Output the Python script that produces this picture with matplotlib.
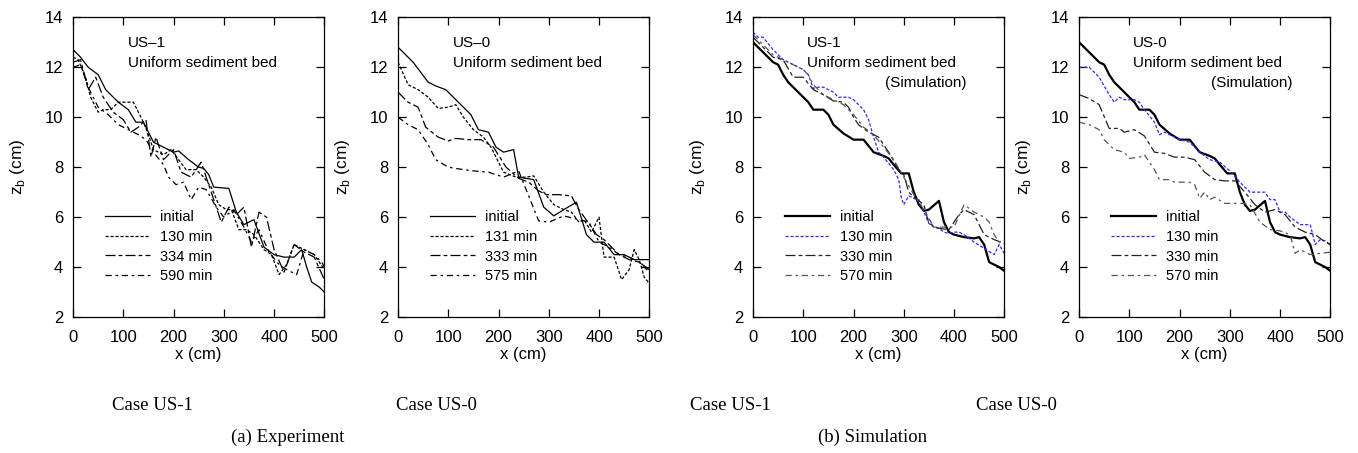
import matplotlib
matplotlib.use('Agg')
import matplotlib.pyplot as plt

plt.rcParams['font.family'] = ['Liberation Sans', 'DejaVu Sans']
plt.rcParams['mathtext.fontset'] = 'custom'
plt.rcParams['mathtext.rm'] = 'Liberation Sans'

# ---- (a) Experiment, US-1 ----
e1_init_x = [0, 15, 30, 50, 65, 90, 110, 125, 140, 160, 180, 200, 210, 230, 250, 260, 270, 280, 310, 325,
             340, 360, 380, 400, 420, 440, 455, 465, 475, 490, 500]
e1_init_z = [12.7, 12.4, 12.0, 11.7, 11.1, 10.6, 10.3, 9.8, 9.8, 9.0, 8.8, 8.6, 8.65, 8.3, 8.0, 7.95, 7.7, 7.2,
             7.15, 6.2, 5.7, 5.9, 4.8, 4.5, 4.4, 4.4, 4.7, 4.0, 3.4, 3.2, 3.0]
e1_130_x = [0, 10, 25, 35, 50, 60, 75, 90, 120, 140, 150, 160, 180, 195, 210, 225, 245, 260, 275, 290, 305,
            315, 330, 345, 360, 380, 395, 410, 425, 440, 460, 480, 500]
e1_130_z = [12.4, 12.3, 11.6, 10.8, 10.2, 10.3, 10.3, 10.6, 10.6, 9.8, 9.3, 8.7, 8.5, 8.7, 8.3, 7.9, 7.9,
            7.6, 7.2, 6.5, 6.3, 6.3, 5.5, 5.5, 5.3, 4.7, 4.5, 3.7, 4.1, 4.9, 4.7, 4.5, 3.9]
e1_334_x = [0, 15, 30, 45, 60, 80, 100, 115, 130, 145, 155, 165, 180, 200, 215, 235, 255, 275, 295, 310,
            325, 340, 355, 370, 385, 400, 420, 440, 460, 480, 500]
e1_334_z = [12.2, 12.3, 11.1, 11.6, 10.8, 10.2, 9.9, 9.4, 9.6, 9.9, 8.4, 9.2, 8.3, 8.7, 7.8, 7.6, 8.2, 7.0,
            5.8, 6.4, 6.1, 6.4, 4.8, 6.2, 6.0, 4.7, 3.8, 4.9, 4.6, 4.4, 3.5]
e1_590_x = [0, 15, 30, 50, 70, 90, 110, 130, 145, 160, 180, 190, 205, 220, 235, 250, 265, 285, 300, 320,
            340, 355, 370, 390, 410, 425, 445, 460, 480, 495, 500]
e1_590_z = [12.0, 12.1, 11.2, 10.4, 10.1, 9.7, 9.5, 9.3, 9.1, 8.6, 8.1, 7.6, 7.3, 7.4, 6.7, 7.2, 7.1, 6.4,
            6.0, 6.3, 5.6, 5.0, 5.5, 4.6, 4.1, 3.9, 3.7, 4.7, 4.5, 4.2, 4.0]

# ---- (a) Experiment, US-0 ----
e0_init_x = [0, 30, 60, 75, 95, 110, 130, 145, 160, 180, 195, 210, 230, 240, 270, 290, 310, 330, 355, 375,
             390, 410, 430, 450, 470, 500]
e0_init_z = [12.8, 12.2, 11.4, 11.25, 11.1, 10.8, 10.4, 10.1, 9.5, 9.4, 8.8, 8.6, 8.7, 7.6, 7.5, 6.4, 6.05,
             6.3, 6.6, 5.3, 5.0, 5.0, 4.5, 4.5, 4.3, 4.3]
e0_131_x = [0, 20, 40, 60, 80, 100, 115, 130, 150, 170, 185, 210, 235, 255, 270, 290, 310, 330, 345, 360,
            370, 385, 400, 410, 430, 445, 460, 470, 480, 490, 500]
e0_131_z = [12.2, 11.3, 11.1, 10.8, 10.35, 10.4, 10.5, 10.0, 9.5, 9.2, 8.8, 7.8, 7.6, 7.6, 7.65, 7.0, 6.5,
            6.3, 6.2, 5.8, 5.9, 5.4, 6.0, 4.4, 4.4, 3.5, 3.9, 4.7, 4.3, 3.6, 3.35]
e0_333_x = [0, 20, 40, 55, 80, 100, 115, 140, 165, 190, 215, 240, 260, 280, 295, 320, 345, 360, 385, 395,
            410, 440, 460, 480, 500]
e0_333_z = [11.0, 10.6, 10.4, 9.6, 9.2, 9.05, 9.15, 9.1, 9.1, 8.8, 8.0, 7.55, 7.4, 7.05, 6.9, 6.9, 6.85,
            6.3, 5.6, 5.3, 5.1, 4.5, 4.3, 4.2, 3.9]
e0_575_x = [0, 20, 40, 60, 75, 100, 130, 150, 180, 210, 240, 255, 265, 280, 300, 330, 360, 380, 400, 420,
            440, 460, 480, 500]
e0_575_z = [10.0, 9.7, 9.5, 8.9, 8.3, 8.0, 7.9, 7.85, 7.8, 7.6, 7.85, 7.1, 6.6, 5.85, 5.8, 6.05, 5.9, 5.8,
            5.0, 4.8, 4.5, 4.4, 4.2, 3.8]

# ---- (b) Simulation, initial bed (same for both cases) ----
s_init_x = [0, 20, 40, 50, 60, 70, 90, 110, 120, 140, 150, 160, 180, 200, 220, 240, 260, 270, 280, 295,
            310, 320, 330, 340, 350, 370, 380, 390, 400, 420, 440, 450, 460, 470, 490, 500]
s_init_z = [13.0, 12.6, 12.2, 12.1, 11.7, 11.4, 11.0, 10.6, 10.3, 10.3, 10.1, 9.7, 9.35, 9.1, 9.1, 8.6,
            8.45, 8.35, 8.1, 7.75, 7.75, 7.0, 6.5, 6.25, 6.3, 6.65, 5.8, 5.4, 5.3, 5.2, 5.15, 5.2, 4.9, 4.2,
            4.0, 3.85]

# ---- (b) Simulation, US-1 ----
s1_130_x = [0, 10, 20, 40, 60, 80, 100, 110, 120, 130, 140, 160, 170, 190, 200, 220, 230, 240, 250, 260,
            280, 290, 295, 300, 310, 320, 330, 340, 350, 360, 370, 380, 390, 400, 410, 420, 440, 460, 480,
            490, 500]
s1_130_z = [13.4, 13.2, 13.2, 12.7, 12.3, 12.1, 11.9, 11.7, 11.15, 11.2, 11.2, 11.0, 10.8, 10.8, 10.7,
            10.3, 9.9, 9.2, 8.6, 8.4, 7.9, 7.5, 6.8, 6.5, 6.85, 6.75, 6.7, 6.2, 5.75, 5.6, 5.55, 5.4, 5.35,
            5.4, 5.4, 5.3, 5.0, 4.75, 4.5, 4.9, 4.55]
s1_330_x = [0, 20, 40, 60, 80, 100, 120, 140, 160, 180, 190, 200, 210, 230, 250, 270, 290, 300, 310, 320,
            340, 350, 370, 390, 410, 420, 440, 460, 480, 500]
s1_330_z = [13.2, 12.8, 12.4, 12.3, 11.6, 11.6, 11.1, 10.9, 10.65, 10.6, 10.4, 10.0, 9.7, 9.4, 9.2, 8.6,
            7.9, 7.7, 7.0, 6.8, 6.5, 5.75, 5.55, 5.5, 6.1, 6.3, 6.1, 5.3, 5.1, 4.95]
s1_570_x = [0, 20, 40, 60, 80, 100, 110, 120, 140, 160, 180, 200, 220, 240, 260, 280, 300, 320, 340, 360,
            380, 400, 420, 440, 460, 470, 480, 490, 500]
s1_570_z = [13.3, 12.9, 12.5, 12.3, 12.1, 11.9, 11.7, 11.3, 10.9, 10.7, 10.5, 10.1, 9.6, 9.3, 8.8, 8.3,
            7.6, 6.9, 6.3, 5.6, 5.6, 5.6, 6.5, 6.2, 6.0, 5.8, 5.3, 5.0, 5.1]

# ---- (b) Simulation, US-0 ----
s0_130_x = [0, 20, 40, 60, 70, 80, 90, 110, 120, 130, 150, 160, 170, 180, 200, 220, 240, 260, 280, 300,
            320, 340, 370, 380, 390, 400, 410, 420, 440, 460, 470, 480, 490, 500]
s0_130_z = [12.0, 12.0, 11.6, 10.9, 10.6, 10.8, 10.7, 10.7, 10.6, 10.3, 9.8, 9.3, 9.4, 9.3, 9.1, 9.0, 8.6,
            8.3, 8.2, 7.85, 7.4, 7.0, 7.0, 6.7, 6.7, 6.2, 6.2, 6.0, 5.7, 5.7, 4.9, 5.1, 5.05, 4.9]
s0_330_x = [0, 20, 40, 60, 80, 90, 110, 130, 150, 170, 190, 210, 230, 250, 270, 290, 310, 330, 350, 370,
            390, 410, 430, 450, 470, 490, 500]
s0_330_z = [10.9, 10.75, 10.5, 9.55, 9.55, 9.4, 9.5, 9.25, 8.6, 8.55, 8.4, 8.4, 8.3, 7.8, 7.5, 7.45, 7.45,
            7.0, 6.5, 6.2, 6.3, 6.1, 5.6, 5.4, 5.3, 5.0, 4.9]
s0_570_x = [0, 20, 40, 50, 70, 90, 100, 120, 130, 150, 160, 180, 190, 220, 230, 240, 250, 260, 270, 290,
            330, 340, 360, 380, 400, 420, 430, 440, 460, 480, 500]
s0_570_z = [9.8, 9.7, 9.5, 9.1, 8.7, 8.6, 8.35, 8.4, 8.5, 7.9, 7.5, 7.5, 7.4, 7.4, 7.3, 6.75, 7.0, 6.7,
            6.8, 6.55, 6.55, 6.5, 5.8, 5.5, 5.45, 5.3, 4.55, 4.7, 4.5, 4.55, 4.6]

exp_labels_1 = ['initial', '130 min', '334 min', '590 min']
exp_labels_0 = ['initial', '131 min', '333 min', '575 min']
sim_labels = ['initial', '130 min', '330 min', '570 min']

exp_styles = [
    dict(color='black', lw=0.9, ls='-'),
    dict(color='black', lw=0.9, ls=(0, (2.5, 1.5))),
    dict(color='black', lw=0.9, ls=(0, (8, 2.5, 3, 2.5))),
    dict(color='black', lw=0.9, ls=(0, (5, 3, 2, 3))),
]
sim_styles = [
    dict(color='black', lw=1.6, ls='-'),
    dict(color='#2b2bff', lw=0.9, ls=(0, (2.5, 1.5))),
    dict(color='#222222', lw=0.9, ls=(0, (8, 2.5, 3, 2.5))),
    dict(color='#555555', lw=0.9, ls=(0, (5, 3, 2, 3))),
]

fig = plt.figure(figsize=(13.58, 4.53), dpi=100)
lefts = [0.0538, 0.2931, 0.5545, 0.7946]
W, B, H = 0.185, 0.300, 0.662

panels = [
    ([(e1_init_x, e1_init_z), (e1_130_x, e1_130_z), (e1_334_x, e1_334_z), (e1_590_x, e1_590_z)],
     exp_labels_1, exp_styles, 'US\u20131', False),
    ([(e0_init_x, e0_init_z), (e0_131_x, e0_131_z), (e0_333_x, e0_333_z), (e0_575_x, e0_575_z)],
     exp_labels_0, exp_styles, 'US\u20130', False),
    ([(s_init_x, s_init_z), (s1_130_x, s1_130_z), (s1_330_x, s1_330_z), (s1_570_x, s1_570_z)],
     sim_labels, sim_styles, 'US-1', True),
    ([(s_init_x, s_init_z), (s0_130_x, s0_130_z), (s0_330_x, s0_330_z), (s0_570_x, s0_570_z)],
     sim_labels, sim_styles, 'US-0', True),
]

for left, (series, labels, styles, case, sim) in zip(lefts, panels):
    ax = fig.add_axes([left, B, W, H])
    for (x, z), lab, st in zip(series, labels, styles):
        ax.plot(x, z, label=lab, **st)
    ax.set_xlim(0, 500)
    ax.set_ylim(2, 14)
    ax.set_xticks([0, 100, 200, 300, 400, 500])
    ax.set_yticks([2, 4, 6, 8, 10, 12, 14])
    ax.tick_params(direction='in', length=6, width=0.9, top=True, right=True, labelsize=12, pad=7)
    ax.tick_params(axis='x', pad=9)
    for s in ax.spines.values():
        s.set_linewidth(0.9)
    ax.set_xlabel('x (cm)', fontsize=12, labelpad=2)
    ax.set_ylabel(r'z$_\mathrm{b}$ (cm)', fontsize=12.5, labelpad=13)
    xt = 110 if not sim else 107
    ax.text(xt, 12.95, case, fontsize=11, va='center', ha='left')
    ax.text(xt, 12.15, 'Uniform sediment bed', fontsize=11, va='center', ha='left')
    if sim:
        ax.text(425, 11.35, '(Simulation)', fontsize=11, va='center', ha='right')
    ax.legend(loc='upper left', bbox_to_anchor=(0.104, 0.377), frameon=False, fontsize=10.5,
              handlelength=3.1, handletextpad=0.7, labelspacing=0.4, borderaxespad=0)

serif = ['Liberation Serif', 'DejaVu Serif']
for xc, txt in zip([152, 436, 730, 1016], ['Case US-1', 'Case US-0', 'Case US-1', 'Case US-0']):
    fig.text(xc / 1358, 1 - 405 / 453, txt, family=serif, fontsize=13.5, ha='center', va='center')
fig.text(288 / 1358, 1 - 437 / 453, '(a) Experiment', family=serif, fontsize=13.5, ha='center', va='center')
fig.text(873 / 1358, 1 - 437 / 453, '(b) Simulation', family=serif, fontsize=13.5, ha='center', va='center')

fig.savefig('out.png', dpi=100)
